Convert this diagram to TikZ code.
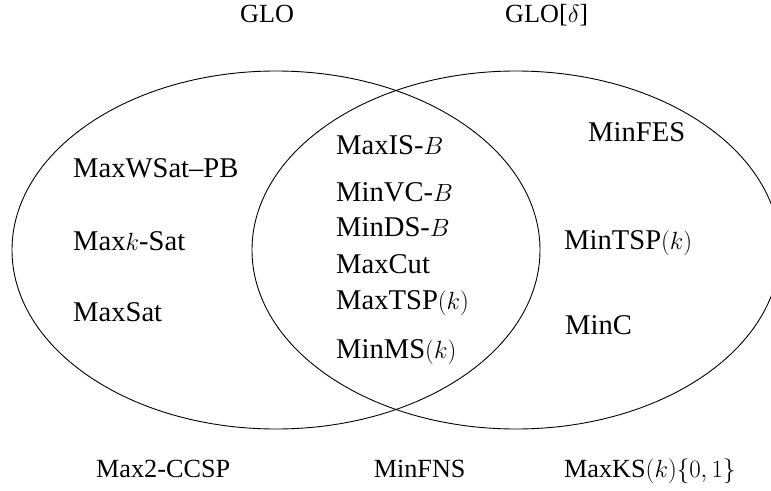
\documentclass[tikz,border=0pt]{standalone}
\usepackage{fontspec}
\setmainfont{Liberation Serif}
\begin{document}
\begin{tikzpicture}[x=1pt,y=-1pt,
  set/.style={draw=black,line width=0.9pt},
  inlbl/.style={anchor=base west,inner sep=0pt,font=\fontsize{28.6}{32}\selectfont},
  outlbl/.style={anchor=base west,inner sep=0pt,font=\fontsize{26.2}{30}\selectfont}]
\useasboundingbox (0,0) rectangle (771,490);
\draw[set] (276,250) ellipse [x radius=264, y radius=179];
\draw[set] (516,250) ellipse [x radius=264, y radius=179];
% top labels
\node[outlbl] (glo) at (240,22.7) {GLO};
\node[outlbl] (glod) at (505,22.7) {GLO[$\delta$]};
% left only
\node[inlbl] (wsat) at (73,177.7) {MaxWSat--PB};
\node[inlbl] (ksat) at (73,250) {Max$k$-Sat};
\node[inlbl] (sat) at (73,321.7) {MaxSat};
% intersection
\node[inlbl] (is) at (336,154) {MaxIS-$B$};
\node[inlbl] (vc) at (336,201.7) {MinVC-$B$};
\node[inlbl] (ds) at (336,236.7) {MinDS-$B$};
\node[inlbl] (cut) at (336,273.3) {MaxCut};
\node[inlbl] (mtsp) at (336,309) {MaxTSP$(k)$};
\node[inlbl] (ms) at (336,358.3) {MinMS$(k)$};
% right only
\node[inlbl] (fes) at (588,141.7) {MinFES};
\node[inlbl] (ntsp) at (564,249.5) {MinTSP$(k)$};
\node[inlbl] (minc) at (565,334.3) {MinC};
% bottom labels
\node[outlbl] (ccsp) at (96,477.3) {Max2-CCSP};
\node[outlbl] (fns) at (373.6,477.3) {MinFNS};
\node[outlbl] (ks) at (564,477.3) {MaxKS$(k)\{0,1\}$};
\end{tikzpicture}
\end{document}
